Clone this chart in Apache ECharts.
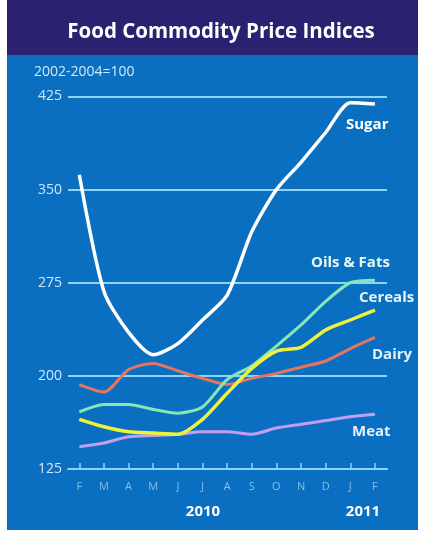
<!DOCTYPE html>
<html>
<head>
<meta charset="utf-8">
<style>
html,body{margin:0;padding:0;background:#ffffff;}
#chart{width:425px;height:533px;}
</style>
<script src="https://cdn.jsdelivr.net/npm/echarts@6/dist/echarts.min.js"></script>
</head>
<body>
<div id="chart"></div>
<script>
const months = ['F','M','A','M','J','J','A','S','O','N','D','J','F'];
const yTicks = [125, 200, 275, 350, 425];
const sugar   = [362, 268, 235, 217, 226, 245, 265, 316, 350, 372, 396, 420, 419];
const oils    = [171, 177, 177, 173, 170, 175, 197, 208, 224, 241, 260, 275, 277];
const cereals = [165, 159, 155, 154, 153, 165, 186, 206, 220, 223, 237, 245, 253];
const dairy   = [193, 187, 205, 210, 204, 198, 193, 198, 202, 207, 212, 222, 231];
const meat    = [143, 146, 151, 152, 153, 155, 155, 153, 158, 161, 164, 167, 169];

const idx = months.map((m, i) => i);
const pairs = arr => arr.map((v, i) => [i, v]);

const chart = echarts.init(document.getElementById('chart'), null, {renderer: 'canvas'});
const gridCol = '#8fd3f6';
const font = '"Open Sans", "Liberation Sans", sans-serif';

function line(name, arr, color, width) {
  return {
    name: name, type: 'line', data: pairs(arr), smooth: 0.25,
    symbol: 'none', lineStyle: {color: color, width: width}, z: 3
  };
}
function txt(s, x, y, fill, f, align) {
  return {type: 'text', z: 5, style: {text: s, x: x, y: y, fill: fill, font: f,
    textAlign: align || 'left', textVerticalAlign: 'middle'}};
}

chart.setOption({
  animation: false,
  backgroundColor: '#ffffff',
  graphic: [
    {type: 'rect', shape: {x: 7, y: 0, width: 411, height: 530}, style: {fill: '#0a6fc0'}, z: -10},
    {type: 'rect', shape: {x: 7, y: 0, width: 411, height: 55}, style: {fill: '#2a2270'}, z: -9},
    txt('Food Commodity Price Indices', 221, 32, '#ffffff', 'bold 20.5px ' + font, 'center'),
    txt('2002-2004=100', 34, 72, '#cfe8fb', '14px ' + font),
    txt('Sugar', 346, 125, '#ffffff', 'bold 15px ' + font),
    txt('Oils & Fats', 311, 263, '#e6fbf0', 'bold 15px ' + font),
    txt('Cereals', 359, 298, '#e8f7f4', 'bold 15px ' + font),
    txt('Dairy', 372, 355, '#e2f1fb', 'bold 15px ' + font),
    txt('Meat', 352, 432, '#e2f1fb', 'bold 15px ' + font),
    txt('2010', 203, 512, '#ffffff', 'bold 15px ' + font, 'center'),
    txt('2011', 363, 512, '#ffffff', 'bold 15px ' + font, 'center')
  ],
  grid: {left: 68, right: 38, top: 96.5, bottom: 64, containLabel: false},
  xAxis: {
    type: 'value', min: -0.46, max: 12.49,
    axisLine: {show: true, lineStyle: {color: gridCol, width: 2}},
    axisTick: {show: true, inside: true, length: 6, customValues: idx, lineStyle: {color: gridCol, width: 1.5}},
    axisLabel: {customValues: idx, formatter: v => months[Math.round(v)], color: '#86bfe6', fontSize: 11, fontFamily: font, margin: 12},
    splitLine: {show: false}
  },
  yAxis: {
    type: 'value', min: yTicks[0], max: yTicks[yTicks.length - 1], interval: 75,
    axisLine: {show: false}, axisTick: {show: false},
    axisLabel: {color: '#cfe8fb', fontSize: 14, fontFamily: font, margin: 6, formatter: v => String(v)},
    splitLine: {show: true, lineStyle: {color: gridCol, width: 2}}
  },
  series: [
    line('Meat', meat, '#c49ef0', 3),
    line('Dairy', dairy, '#e27661', 3),
    line('Oils & Fats', oils, '#86e6b6', 3),
    line('Cereals', cereals, '#eef23a', 3.5),
    line('Sugar', sugar, '#ffffff', 3.5)
  ]
});
</script>
</body>
</html>
